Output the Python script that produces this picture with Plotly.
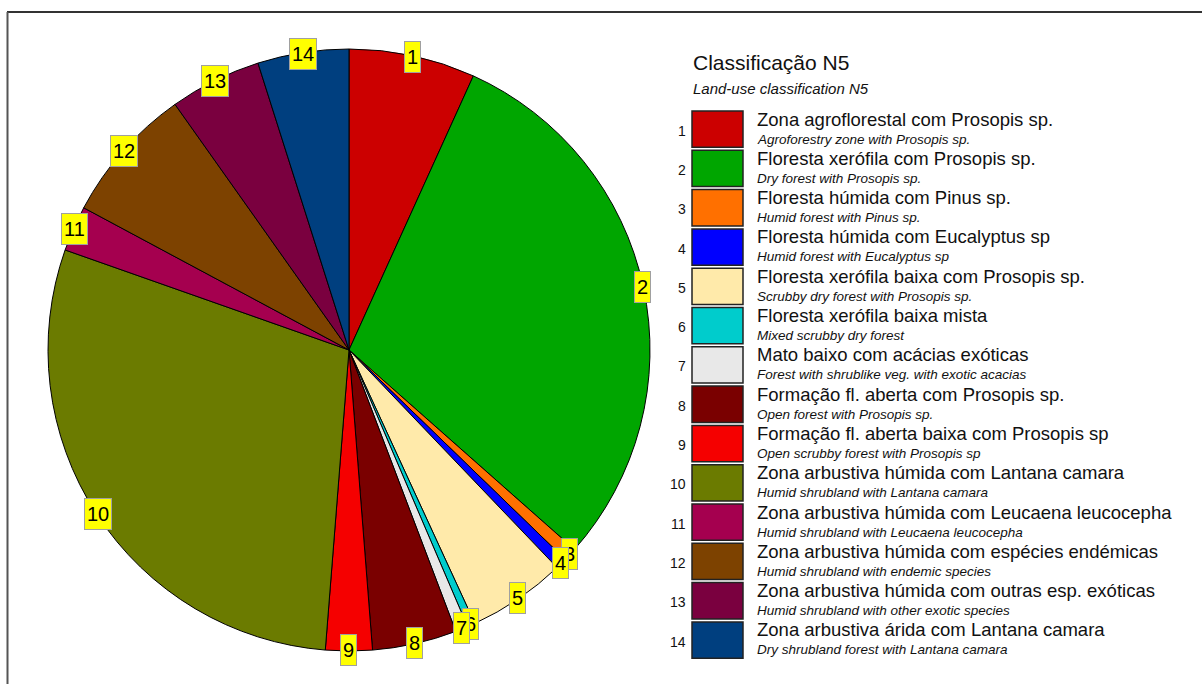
import math
import plotly.graph_objects as go

# ---------------- data ----------------
class_ids = ["1", "2", "3", "4", "5", "6", "7", "8", "9", "10", "11", "12", "13", "14"]
shares = [6.78, 29.75, 0.72, 0.61, 5.28, 0.42, 0.67, 4.53, 2.50, 29.14, 2.44, 7.36, 4.92, 4.89]
names_pt = [
    "Zona agroflorestal com Prosopis sp.",
    "Floresta xerófila com Prosopis sp.",
    "Floresta húmida com Pinus sp.",
    "Floresta húmida com Eucalyptus sp",
    "Floresta xerófila baixa com Prosopis sp.",
    "Floresta xerófila baixa mista",
    "Mato baixo com acácias exóticas",
    "Formação fl. aberta com Prosopis sp.",
    "Formação fl. aberta baixa com Prosopis sp",
    "Zona arbustiva húmida com Lantana camara",
    "Zona arbustiva húmida com Leucaena leucocepha",
    "Zona arbustiva húmida com espécies endémicas",
    "Zona arbustiva húmida com outras esp. exóticas",
    "Zona arbustiva árida com Lantana camara",
]
names_en = [
    "Agroforestry zone with Prosopis sp.",
    "Dry forest with Prosopis sp.",
    "Humid forest with Pinus sp.",
    "Humid forest with Eucalyptus sp",
    "Scrubby dry forest with Prosopis sp.",
    "Mixed scrubby dry forest",
    "Forest with shrublike veg. with exotic acacias",
    "Open forest with Prosopis sp.",
    "Open scrubby forest with Prosopis sp",
    "Humid shrubland with Lantana camara",
    "Humid shrubland with Leucaena leucocepha",
    "Humid shrubland with endemic species",
    "Humid shrubland with other exotic species",
    "Dry shrubland forest with Lantana camara",
]
colors = ["#CC0000", "#00A600", "#FF7000", "#0000FF", "#FFEAAA", "#00CCCC", "#E8E8E8",
          "#7A0000", "#F50000", "#6B7B00", "#A5004F", "#7D4200", "#7A003F", "#003F7F"]
title_pt = "Classificação N5"
title_en = "Land-use classification N5"

# ---------------- layout constants ----------------
W, H = 1202, 684
CX, CY, R = 349, 350, 301          # pie centre / radius in pixels
FONT = "Arial, Liberation Sans, sans-serif"


def px(x):
    return x / W


def py(y):
    return 1 - y / H


fig = go.Figure()
fig.add_trace(go.Pie(
    labels=class_ids,
    values=shares,
    sort=False,
    direction="clockwise",
    rotation=0,
    marker=dict(colors=colors, line=dict(color="black", width=1)),
    textinfo="none",
    hoverinfo="label+percent",
    showlegend=False,
    domain=dict(x=[px(CX - R), px(CX + R)], y=[py(CY + R), py(CY - R)]),
))

annotations = []
shapes = []

# slice number labels (yellow boxes) at the mid-angle of each slice, on the rim
total = sum(shares)
cum = 0.0
LR = 300
for cid, v in zip(class_ids, shares):
    mid = (cum + v / 2) / total * 2 * math.pi
    cum += v
    x = CX + LR * math.sin(mid)
    y = CY - LR * math.cos(mid)
    annotations.append(dict(
        x=px(x), y=py(y), xref="paper", yref="paper", text=cid, showarrow=False,
        xanchor="center", yanchor="middle", height=26,
        font=dict(family=FONT, size=20, color="black"),
        bgcolor="#FFFF00", bordercolor="#A0A0A0", borderwidth=1, borderpad=2,
    ))

# legend title
annotations.append(dict(x=px(691), y=py(63), xref="paper", yref="paper", text=title_pt,
                        showarrow=False, xanchor="left", yanchor="middle",
                        font=dict(family=FONT, size=21, color="#111111")))
annotations.append(dict(x=px(691), y=py(88), xref="paper", yref="paper",
                        text="<i>" + title_en + "</i>",
                        showarrow=False, xanchor="left", yanchor="middle",
                        font=dict(family=FONT, size=15, color="#111111")))

# legend rows
TOP0, PITCH, BH = 111, 39.3, 36.3
for i, (cid, npt, nen, col) in enumerate(zip(class_ids, names_pt, names_en, colors)):
    top = TOP0 + PITCH * i
    shapes.append(dict(type="rect", xref="paper", yref="paper",
                       x0=px(692), x1=px(743), y0=py(top), y1=py(top + BH),
                       fillcolor=col, line=dict(color="#222222", width=1.5)))
    annotations.append(dict(x=px(688), y=py(top + BH / 2 + 1.5), xref="paper", yref="paper",
                            text=cid, showarrow=False, xanchor="right", yanchor="middle",
                            font=dict(family=FONT, size=14, color="#111111")))
    annotations.append(dict(x=px(755), y=py(top + 8), xref="paper", yref="paper",
                            text=npt, showarrow=False, xanchor="left", yanchor="middle",
                            font=dict(family=FONT, size=18.5, color="#111111")))
    annotations.append(dict(x=px(755), y=py(top + 28), xref="paper", yref="paper",
                            text="<i>" + nen + "</i>", showarrow=False, xanchor="left",
                            yanchor="middle",
                            font=dict(family=FONT, size=13.5, color="#111111")))

# outer frame (top and left edges)
shapes.append(dict(type="line", xref="paper", yref="paper", x0=px(7), x1=1, y0=py(12), y1=py(12),
                   line=dict(color="#333333", width=2)))
shapes.append(dict(type="line", xref="paper", yref="paper", x0=px(7.5), x1=px(7.5), y0=py(12), y1=0,
                   line=dict(color="#555555", width=2)))

fig.update_layout(
    width=W, height=H,
    margin=dict(l=0, r=0, t=0, b=0),
    paper_bgcolor="white", plot_bgcolor="white",
    annotations=annotations, shapes=shapes,
    font=dict(family=FONT),
)

fig.write_html(
    "out.html",
    config={"displayModeBar": False},
    post_script="document.body.style.margin='0';document.body.style.overflow='hidden';",
)
